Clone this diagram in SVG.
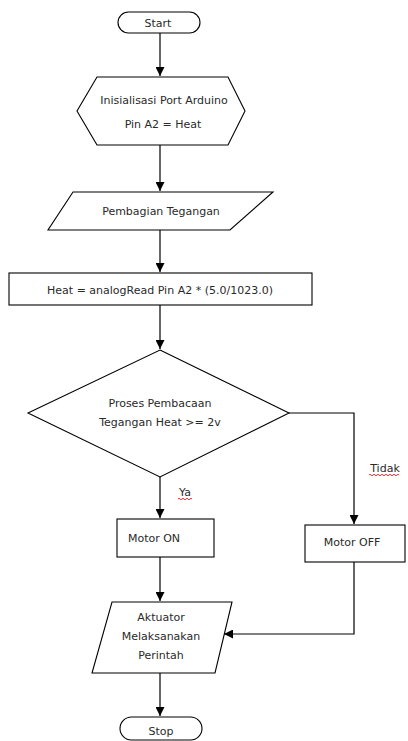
<svg xmlns="http://www.w3.org/2000/svg" width="408" height="741" viewBox="0 0 408 741">
<defs>
<marker id="ah" viewBox="0 0 10 10" refX="10" refY="5" markerWidth="9" markerHeight="9" markerUnits="userSpaceOnUse" orient="auto">
<path d="M0,0 L10,5 L0,10 Z" fill="#000"/>
</marker>
</defs>
<style>
.s{fill:#fff;stroke:#000;stroke-width:1.1}
.c{fill:none;stroke:#000;stroke-width:1.2;marker-end:url(#ah)}
.t{font-family:"DejaVu Sans","Liberation Sans",sans-serif;font-size:11px;fill:#2a2a2a;text-anchor:middle}
.w{fill:none;stroke:#d00;stroke-width:0.8}
</style>
<rect width="408" height="741" fill="#fff"/>
<g id="connectors">
<path class="c" d="M160,33 V76"/>
<path class="c" d="M160,145 V191"/>
<path class="c" d="M160,230 V272"/>
<path class="c" d="M160,305 V349"/>
<path class="c" d="M160,477 V518"/>
<path class="c" d="M289,413 H354 V524"/>
<path class="c" d="M160,557 V601"/>
<path class="c" d="M354,562 V634 H224"/>
<path class="c" d="M160,673 V716"/>
</g>
<g id="start">
<rect class="s" x="118" y="12" width="82" height="21" rx="10.5"/>
<text class="t" x="158" y="27">Start</text>
</g>
<g id="init">
<polygon class="s" points="97,77 228,77 245,111 228,145 97,145 77,111"/>
<text class="t" x="164" y="104">Inisialisasi Port Arduino</text>
<text class="t" x="163" y="128">Pin A2 = Heat</text>
</g>
<g id="pembagian">
<polygon class="s" points="73,192 273,192 230,230 48,230"/>
<text class="t" x="161" y="215">Pembagian Tegangan</text>
</g>
<g id="heat">
<rect class="s" x="9" y="273" width="303" height="32"/>
<text class="t" x="160" y="294">Heat = analogRead Pin A2 * (5.0/1023.0)</text>
</g>
<g id="decision">
<polygon class="s" points="160,350 289,413 160,477 28,413"/>
<text class="t" x="160" y="407">Proses Pembacaan</text>
<text class="t" x="160" y="426">Tegangan Heat &gt;= 2v</text>
</g>
<g id="labels">
<text class="t" x="185" y="496">Ya</text>
<path class="w" d="M178,499 q1,-1.5 2,0 t2,0 t2,0 t2,0 t2,0 t2,0 t2,0"/>
<text class="t" x="385" y="472">Tidak</text>
<path class="w" d="M369,475 q1,-1.5 2,0 t2,0 t2,0 t2,0 t2,0 t2,0 t2,0 t2,0 t2,0 t2,0 t2,0 t2,0 t2,0 t2,0 t2,0"/>
</g>
<g id="motoron">
<rect class="s" x="117" y="519" width="97" height="38"/>
<text class="t" x="154" y="542">Motor ON</text>
</g>
<g id="motoroff">
<rect class="s" x="305" y="525" width="100" height="37"/>
<text class="t" x="352" y="546">Motor OFF</text>
</g>
<g id="aktuator">
<polygon class="s" points="112,602 232,602 215,673 92,673"/>
<text class="t" x="161" y="621">Aktuator</text>
<text class="t" x="161" y="640">Melaksanakan</text>
<text class="t" x="161" y="659">Perintah</text>
</g>
<g id="stop">
<rect class="s" x="120" y="717" width="82" height="23" rx="11.5"/>
<text class="t" x="161" y="735">Stop</text>
</g>
</svg>
